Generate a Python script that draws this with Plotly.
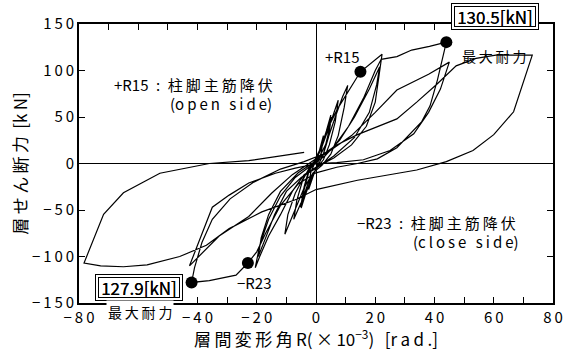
import plotly.graph_objects as go

# Story drift angle R (x10^-3 rad) and story shear (kN), traced cycle by cycle.
# Small elastic cycles (+-2.5, +-5, +-5, +-7.5, +-10)
drift_small = [0, 1.0, 2.5, 1.8, 0.5, -1.0, -2.5, -1.8, -0.5, 1.5, 3.5, 5.0, 4.0, 2.5, 1.0,
               -1.5, -3.5, -5.0, -4.0, -2.5, -1.0, 1.5, 3.5, 5.2, 4.2, 2.3, 0.8, -1.5, -3.5,
               -5.2, -4.0, -2.5, -0.5, 2.0, 4.5, 6.3, 7.5, 6.5, 4.5, 2.5, 0.0, -2.5, -5.0,
               -7.5, -6.5, -4.5, -2.0, 1.0, 3.5, 6.5, 9.0, 10.7, 9.5, 7.5, 5.0, 2.0, -1.0,
               -4.0, -7.0, -9.5, -10.5]
shear_small = [0, 12, 30, 12, 0, -12, -28, -10, 0, 15, 35, 52, 30, 10, 0,
               -15, -33, -48, -28, -10, 0, 16, 33, 50, 28, 8, -1, -16, -32,
               -47, -25, -8, 2, 18, 40, 58, 68, 45, 20, 4, -6, -20, -42,
               -60, -40, -18, -3, 6, 22, 50, 72, 84, 60, 30, 10, -2, -10,
               -26, -50, -70, -76]

# Cycles to about +-22 (yield of column-base main bars)
drift_r22 = [-9.5, -7.0, -4.0, -1.0, 1.5, 4.0, 7.3, 11.3, 15.0, 22.3,
             21.3, 20.0, 17.0, 12.0, 6.0, 0.0, -4.0, -8.0, -12.0, -16.0, -19.0, -20.5,
             -19.0, -16.0, -12.0, -7.0, -2.0, 3.0, 8.0, 13.0, 18.0, 21.5,
             20.5, 18.0, 13.0, 6.0, 0.0, -5.0, -10.0, -14.0, -17.0, -19.5]
shear_r22 = [-55, -32, -14, -2, 14, 38, 59, 80, 98.6, 117.5,
             94, 66, 40, 20, 6, -4, -12, -30, -55, -78, -100, -112,
             -88, -60, -35, -15, -3, 8, 25, 50, 80, 104,
             85, 55, 28, 8, -5, -15, -30, -55, -80, -100]

# Cycles to about +-44 (maximum strength)
drift_r44 = [-18.5, -16.0, -12.0, -6.0, 0.0, 6.0, 11.0, 16.0, 20.0, 22.0, 27.3, 32.3, 38.3, 44.0,
             41.0, 38.5, 35.7, 27.3, 20.7, 14.0, 7.0, 0.0, -6.0, -12.0, -17.0, -20.0, -23.0,
             -27.0, -36.0, -42.0,
             -41.0, -38.5, -35.0, -29.0, -21.0, -12.0, -4.0, 4.0, 12.0, 20.0, 27.3, 38.0, 45.0,
             42.0, 38.0, 33.0, 25.0, 16.0, 7.0, 0.7, -7.0, -13.7, -22.7, -29.3, -35.0, -42.7]
shear_r44 = [-80, -55, -30, -10, 3, 18, 40, 70, 100, 112, 115, 122, 126, 130.5,
             90, 62, 45, 17, 5, 0, -4, -10, -22, -45, -75, -95, -107,
             -120, -126, -127.9,
             -112, -85, -60, -38, -20, -6, 2, 12, 30, 55, 79, 96, 109,
             80, 55, 32, 14, 4, 1, 0, -5, -10.5, -21, -34, -47, -110]

# Final large cycle (+73 / -78) and unloading
drift_final = [-32.7, -22.7, -15.0, -8.0, 0.0, 7.0, 14.0, 27.3, 34.0, 40.7, 47.3, 54.0, 60.7, 73.0,
               66.7, 60.0, 53.0, 44.0, 34.0, 14.0, 0.0, -7.0, -18.3, -29.3, -37.0, -46.0, -57.0,
               -65.0, -72.7, -78.3,
               -71.7, -65.0, -52.7, -36.0, -22.7, -11.7, -4.0]
shear_final = [-78, -57, -32, -12, 5, 20, 31, 48, 66, 85, 105, 113, 116.5, 116.5,
               55.6, 31, 14, 2, -7, -18, -28, -39, -52, -70, -88, -100, -109,
               -111, -110, -107,
               -54.6, -31.5, -10.5, 0, 3, 8, 12]

# Marked events: yield points and maximum strength
event_drift = [15.0, -23.0, 44.0, -42.0]
event_shear = [98.6, -107.0, 130.5, -127.9]
max_strength = [130.5, -127.9]

x_ticks = list(range(-80, 81, 10))
y_ticks = [-150, -100, -50, 0, 50, 100, 150]

TS = "\u2009"  # thin space used as letter spacing
EN = "\u2002"


def spaced(s):
    return TS.join(s)


def num_label(v):
    return spaced(str(v).replace("-", "−"))


x_labels = [num_label(v) if v % 20 == 0 else "" for v in x_ticks]
y_labels = [num_label(v) for v in y_ticks]

drift = drift_small + drift_r22 + drift_r44 + drift_final
shear = shear_small + shear_r22 + shear_r44 + shear_final

JP = "Noto Sans CJK JP, DejaVu Sans, sans-serif"

fig = go.Figure()
fig.add_trace(go.Scatter(x=drift, y=shear, mode="lines",
                         line=dict(color="black", width=1.2), hoverinfo="skip",
                         showlegend=False))
fig.add_trace(go.Scatter(x=event_drift, y=event_shear, mode="markers",
                         marker=dict(color="black", size=12), showlegend=False))

axis_common = dict(showline=True, linecolor="black", linewidth=1.6, mirror="ticks",
                   ticks="inside", ticklen=6, tickwidth=1.2, tickcolor="black",
                   showgrid=False, zeroline=True, zerolinecolor="black",
                   zerolinewidth=1.2, tickfont=dict(family=JP, size=15, color="black"))

x_title = (spaced("層間変形角") + TS + "R(" + TS + "×" + TS + "10<sup>−3</sup>)"
           + TS + TS + " [" + spaced("rad.") + "]")
y_title = spaced("層せん断力") + TS + " [" + spaced("kN") + "]"

fig.update_xaxes(range=[-80, 80], tickvals=x_ticks, ticktext=x_labels,
                 title=dict(text=x_title, font=dict(family=JP, size=17, color="black"),
                            standoff=0),
                 **axis_common)
fig.update_yaxes(range=[-150, 150], tickvals=y_ticks, ticktext=y_labels,
                 title=dict(text=y_title, font=dict(family=JP, size=17, color="black"),
                            standoff=0),
                 **axis_common)


def note(x, y, text, size=15, xref="x", yref="y", **kw):
    fig.add_annotation(x=x, y=y, xref=xref, yref=yref, text=text, showarrow=False,
                       xanchor="center", yanchor="middle",
                       font=dict(family=JP, size=size, color="black"), **kw)


note(-41.2, 85, "+R15" + EN + ":" + EN + spaced("柱脚主筋降伏"))
note(-32, 65, "(" + spaced("open side") + ")")
note(40.8, -63, "−R23" + EN + ":" + EN + spaced("柱脚主筋降伏"))
note(50.5, -84, "(" + spaced("close side") + ")")
note(9, 115, "+R15")
note(-20.7, -128, "−R23")

# Double-framed maximum strength labels
for xv, yv, val in [(60.3, 1.028, max_strength[0]), (-59.8, 0.056, max_strength[1])]:
    txt = f"{abs(val):.1f}[kN]"
    note(xv, yv, txt, size=17, yref="paper", width=80, height=19, borderpad=3,
         borderwidth=1, bordercolor="black", bgcolor="white")
    note(xv, yv, txt, size=17, yref="paper", width=80, height=19, borderpad=0,
         borderwidth=1, bordercolor="black")
note(60.2, 0.885, spaced("最大耐力"), size=14, yref="paper")
note(-59.5, -0.032, spaced("最大耐力"), size=14, yref="paper", bgcolor="white")

fig.update_layout(width=575, height=351, margin=dict(l=79, r=17, t=20, b=45),
                  paper_bgcolor="white", plot_bgcolor="white")
fig.write_html("out.html")
